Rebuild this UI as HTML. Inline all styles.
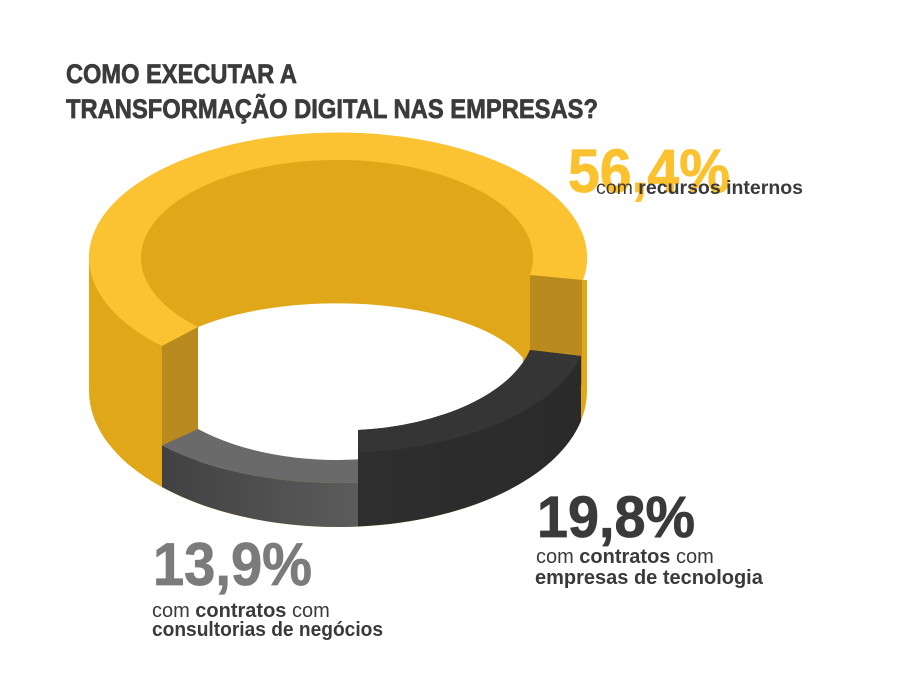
<!DOCTYPE html>
<html>
<head>
<meta charset="utf-8">
<style>
  html, body { margin: 0; padding: 0; background: #ffffff; }
  svg { display: block; }
  text { font-family: "Liberation Sans", "DejaVu Sans", sans-serif; }
</style>
</head>
<body>
<svg width="900" height="686" viewBox="0 0 900 686" xmlns="http://www.w3.org/2000/svg">
  <defs>
    <linearGradient id="grayWall" x1="162" y1="0" x2="360" y2="0" gradientUnits="userSpaceOnUse">
      <stop offset="0" stop-color="#414141"/>
      <stop offset="1" stop-color="#5c5c5c"/>
    </linearGradient>
    <linearGradient id="darkWall" x1="358" y1="0" x2="581" y2="0" gradientUnits="userSpaceOnUse">
      <stop offset="0" stop-color="#2e2e2e"/>
      <stop offset="1" stop-color="#2a2a2a"/>
    </linearGradient>
  </defs>

  <rect x="0" y="0" width="900" height="686" fill="#ffffff"/>

  <!-- Title -->
  <text x="66" y="83" font-size="26.5" font-weight="bold" fill="#3b3b3b" stroke="#3b3b3b" stroke-width="0.7" textLength="231" lengthAdjust="spacingAndGlyphs">COMO EXECUTAR A</text>
  <text x="66" y="118" font-size="26.5" font-weight="bold" fill="#3b3b3b" stroke="#3b3b3b" stroke-width="0.7" textLength="532" lengthAdjust="spacingAndGlyphs">TRANSFORMAÇÃO DIGITAL NAS EMPRESAS?</text>

  <!-- Yellow base body (outer wall + inner back wall) -->
  <path d="M89,258 A249,125 0 1 1 583,280 L587,280 L587,391 A249,136 0 0 1 338,527 A249,136 0 0 1 89,391 Z" fill="#e0a818"/>

  <!-- Yellow top face -->
  <path d="M162,346 A249,125 0 1 1 583,280 L530,275 A196,98 0 1 0 198,327 Z" fill="#fbc331"/>

  <!-- White hole -->
  <path d="M198,327 A196,80 0 0 1 523,358 L523,470 L198,470 Z" fill="#ffffff"/>

  <!-- Yellow left cut face -->
  <path d="M162,346 L198,327 L198,445 L162,462 Z" fill="#b98a1d"/>

  <!-- Yellow right cut face -->
  <path d="M530,275 L582,280 L582,385 L530,385 Z" fill="#b98a1d"/>

  <!-- Gray slice -->
  <path d="M162,445.5 A249,128 0 0 0 360,482.5 L360,526.5 A249,136 0 0 1 162,487 Z" fill="url(#grayWall)"/>
  <path d="M162,445.5 A249,128 0 0 0 360,482.5 L360,459.3 A196,105 0 0 1 198,429 Z" fill="#6a6a6a"/>

  <!-- Dark slice -->
  <path d="M358,430 A196,104 0 0 0 530,350 L581,356 L581,421 A249,136 0 0 1 358,526.5 Z" fill="url(#darkWall)"/>
  <path d="M358,430 L359,452.5 A249,126 0 0 0 581,356 L530,350 A196,104 0 0 1 358,430 Z" fill="#353535"/>

  <!-- 56,4% label -->
  <text x="568" y="192" font-size="61" font-weight="bold" fill="#fcc12f" stroke="#fcc12f" stroke-width="0.8" textLength="162" lengthAdjust="spacingAndGlyphs">56,4%</text>
  <text x="596" y="194" font-size="19.5" fill="#3a3a3a">com</text>
  <text x="638.3" y="194" font-size="19.5" font-weight="bold" fill="#3a3a3a">recursos internos</text>

  <!-- 19,8% label -->
  <text x="537" y="537" font-size="58" font-weight="bold" fill="#3a3a3a" stroke="#3a3a3a" stroke-width="0.8" textLength="158" lengthAdjust="spacingAndGlyphs">19,8%</text>
  <text x="536" y="563" font-size="20" fill="#3a3a3a">com</text>
  <text x="579.3" y="563" font-size="20" font-weight="bold" fill="#3a3a3a">contratos</text>
  <text x="676" y="563" font-size="20" fill="#3a3a3a">com</text>
  <text x="535" y="584" font-size="20" font-weight="bold" fill="#3a3a3a">empresas de tecnologia</text>

  <!-- 13,9% label -->
  <text x="153" y="585" font-size="60" font-weight="bold" fill="#7b7b7b" stroke="#7b7b7b" stroke-width="0.8" textLength="159" lengthAdjust="spacingAndGlyphs">13,9%</text>
  <text x="152" y="617" font-size="20" fill="#3a3a3a">com</text>
  <text x="195.3" y="617" font-size="20" font-weight="bold" fill="#3a3a3a">contratos</text>
  <text x="292" y="617" font-size="20" fill="#3a3a3a">com</text>
  <text x="152" y="636" font-size="20" font-weight="bold" fill="#3a3a3a" textLength="231" lengthAdjust="spacingAndGlyphs">consultorias de negócios</text>
</svg>
</body>
</html>
